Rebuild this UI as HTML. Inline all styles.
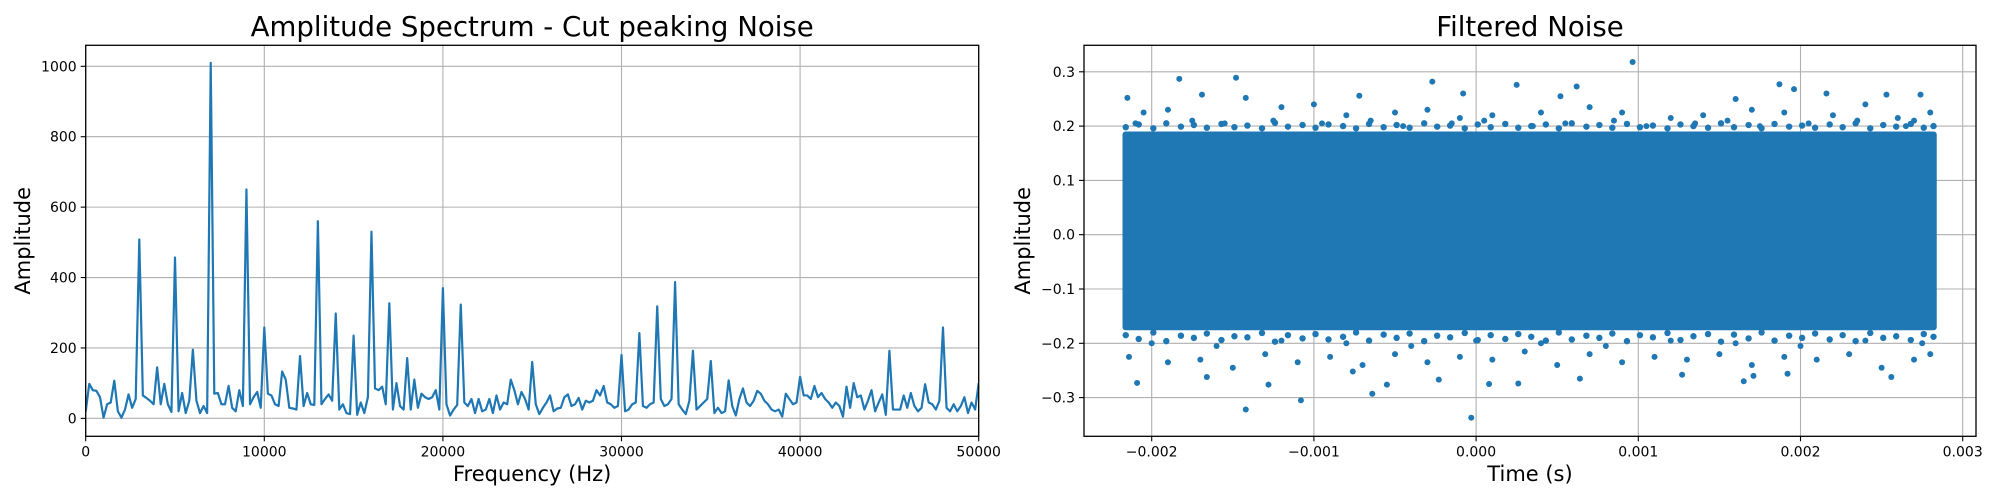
<!DOCTYPE html>
<html><head><meta charset="utf-8"><style>
html,body{margin:0;padding:0;background:#fff;}
svg{display:block;font-family:"DejaVu Sans","Liberation Sans",sans-serif;}
</style></head><body>
<svg id="fig" width="2000" height="500" viewBox="0 0 2000 500">
<rect width="2000" height="500" fill="#fff"/>
<g id="left"></g>
<g id="right"></g>
</svg>
<script>
const specFreq=[0,200,400,600,800,1000,1200,1400,1600,1800,2000,2200,2400,2600,2800,3000,3200,3400,3600,3800,4000,4200,4400,4600,4800,5000,5200,5400,5600,5800,6000,6200,6400,6600,6800,7000,7200,7400,7600,7800,8000,8200,8400,8600,8800,9000,9200,9400,9600,9800,10000,10200,10400,10600,10800,11000,11200,11400,11600,11800,12000,12200,12400,12600,12800,13000,13200,13400,13600,13800,14000,14200,14400,14600,14800,15000,15200,15400,15600,15800,16000,16200,16400,16600,16800,17000,17200,17400,17600,17800,18000,18200,18400,18600,18800,19000,19200,19400,19600,19800,20000,20200,20400,20600,20800,21000,21200,21400,21600,21800,22000,22200,22400,22600,22800,23000,23200,23400,23600,23800,24000,24200,24400,24600,24800,25000,25200,25400,25600,25800,26000,26200,26400,26600,26800,27000,27200,27400,27600,27800,28000,28200,28400,28600,28800,29000,29200,29400,29600,29800,30000,30200,30400,30600,30800,31000,31200,31400,31600,31800,32000,32200,32400,32600,32800,33000,33200,33400,33600,33800,34000,34200,34400,34600,34800,35000,35200,35400,35600,35800,36000,36200,36400,36600,36800,37000,37200,37400,37600,37800,38000,38200,38400,38600,38800,39000,39200,39400,39600,39800,40000,40200,40400,40600,40800,41000,41200,41400,41600,41800,42000,42200,42400,42600,42800,43000,43200,43400,43600,43800,44000,44200,44400,44600,44800,45000,45200,45400,45600,45800,46000,46200,46400,46600,46800,47000,47200,47400,47600,47800,48000,48200,48400,48600,48800,49000,49200,49400,49600,49800,50000];
const specAmp=[20,98,80,78,60,2,40,45,107,20,2,25,68,30,55,508,65,58,50,40,145,40,98,40,18,457,20,72,15,50,195,50,15,35,15,1010,70,72,40,40,92,30,20,80,35,650,40,60,75,30,258,70,65,40,35,133,110,30,28,25,177,35,72,40,38,560,40,55,68,50,298,25,40,15,12,235,10,45,15,60,530,85,80,90,40,327,25,100,35,25,171,25,110,30,70,60,55,60,80,25,370,40,8,25,38,323,45,35,55,15,55,20,25,55,15,65,25,45,40,110,80,40,75,55,25,160,40,12,30,45,65,20,28,30,60,68,35,40,58,25,50,45,50,80,65,92,45,40,30,35,180,20,25,40,45,242,35,30,40,45,318,55,35,40,55,387,40,25,12,50,192,25,35,45,55,163,15,30,15,20,108,35,8,55,85,45,35,50,78,70,50,40,25,20,25,5,70,55,40,45,118,65,65,55,92,60,72,55,45,30,45,35,5,90,30,100,60,65,25,50,80,20,45,68,10,192,25,25,25,65,30,72,35,20,30,97,45,40,25,50,258,30,20,40,20,35,60,15,45,25,100];
const specXTicks=[0,10000,20000,30000,40000,50000];
const specYTicks=[0,200,400,600,800,1000];
const noiseXTicks=[-0.002,-0.001,0,0.001,0.002,0.003];
const noiseXLabels=["\u22120.002","\u22120.001","0.000","0.001","0.002","0.003"];
const noiseYTicks=[-0.3,-0.2,-0.1,0,0.1,0.2,0.3];
const noiseYLabels=["\u22120.3","\u22120.2","\u22120.1","0.0","0.1","0.2","0.3"];
const noiseTimeRange=[-0.00218,0.00284];
const noiseCoreRange=[-0.176,0.19];
const outT=[0.000965,-0.00183,-0.00148,-0.00027,0.00187,0.00025,0.00062,-0.00008,0.00196,0.00216,0.00274,0.00253,-0.00215,-0.00169,-0.00142,-0.00072,0.0016,0.00052,-0.00205,-0.0019,-0.0012,-0.001,-0.0008,-0.0005,-0.0003,-0.0001,0.0001,0.0004,0.0007,0.0009,0.0012,0.0014,0.0017,0.0019,0.0022,0.0024,0.0026,0.0028,-0.0021,-0.00175,-0.00155,-0.00125,-0.00095,-0.00065,-0.00045,-0.00015,0.00005,0.00035,0.00055,0.00085,0.00105,0.00135,0.00155,0.00175,0.00205,0.00235,0.00265,0.0027,
-0.00003,-0.00142,-0.00108,-0.00064,-0.00209,-0.00128,-0.00055,0.00008,0.00026,0.00165,0.00256,0.00064,-0.00166,-0.00023,0.00127,0.00192,0.00171,-0.00076,-0.00214,-0.0019,-0.0017,-0.0015,-0.0013,-0.0011,-0.0009,-0.0007,-0.0005,-0.0003,-0.0001,0.0001,0.0003,0.0005,0.0007,0.0009,0.0011,0.0013,0.0015,0.0017,0.0019,0.0021,0.0023,0.0025,0.0027,0.0028,-0.002,-0.0016,-0.0012,-0.0008,-0.0004,0,0.0004,0.0008,0.0012,0.0016,0.002,0.0024,0.00275];
const outV=[0.318,0.287,0.289,0.282,0.277,0.276,0.273,0.26,0.268,0.26,0.258,0.258,0.252,0.258,0.252,0.256,0.25,0.255,0.225,0.23,0.235,0.24,0.22,0.225,0.23,0.215,0.22,0.225,0.235,0.225,0.215,0.22,0.23,0.225,0.22,0.24,0.215,0.225,0.205,0.21,0.205,0.21,0.205,0.21,0.2,0.205,0.21,0.2,0.205,0.21,0.2,0.205,0.21,0.2,0.205,0.21,0.2,0.21,
-0.337,-0.322,-0.305,-0.293,-0.273,-0.276,-0.276,-0.275,-0.274,-0.27,-0.262,-0.265,-0.262,-0.267,-0.258,-0.256,-0.26,-0.252,-0.225,-0.235,-0.23,-0.245,-0.22,-0.235,-0.225,-0.24,-0.22,-0.235,-0.225,-0.23,-0.215,-0.24,-0.22,-0.235,-0.225,-0.23,-0.22,-0.24,-0.225,-0.23,-0.22,-0.245,-0.23,-0.22,-0.2,-0.205,-0.195,-0.2,-0.205,-0.195,-0.2,-0.205,-0.195,-0.2,-0.205,-0.195,-0.2];
// dense fringe just outside the core band
const fringeT=[-0.00216,-0.00208,-0.00199,-0.00191,-0.00182,-0.00174,-0.00166,-0.00157,-0.00149,-0.00141,-0.00132,-0.00124,-0.00116,-0.00107,-0.00099,-0.00091,-0.00082,-0.00074,-0.00066,-0.00057,-0.00049,-0.00041,-0.00032,-0.00024,-0.00016,-0.00007,0.00001,0.00009,0.00018,0.00026,0.00034,0.00043,0.00051,0.00059,0.00068,0.00076,0.00084,0.00093,0.00101,0.00109,0.00118,0.00126,0.00134,0.00143,0.00151,0.00159,0.00168,0.00176,0.00184,0.00193,0.00201,0.00209,0.00218,0.00226,0.00234,0.00243,0.00251,0.00259,0.00268,0.00276,0.00282];
const fringeTop=[0.198,0.203,0.196,0.205,0.199,0.202,0.197,0.204,0.198,0.201,0.196,0.206,0.199,0.202,0.197,0.203,0.2,0.196,0.204,0.198,0.202,0.197,0.205,0.199,0.201,0.196,0.203,0.198,0.204,0.197,0.2,0.203,0.196,0.205,0.199,0.202,0.197,0.204,0.198,0.201,0.196,0.203,0.2,0.197,0.205,0.198,0.202,0.196,0.204,0.199,0.201,0.197,0.203,0.198,0.205,0.196,0.202,0.199,0.204,0.197,0.2];
const fringeBot=[-0.185,-0.192,-0.18,-0.196,-0.186,-0.19,-0.182,-0.194,-0.187,-0.189,-0.181,-0.197,-0.185,-0.191,-0.183,-0.193,-0.188,-0.18,-0.195,-0.184,-0.19,-0.182,-0.196,-0.186,-0.189,-0.181,-0.194,-0.185,-0.192,-0.183,-0.188,-0.195,-0.18,-0.193,-0.186,-0.19,-0.182,-0.196,-0.185,-0.189,-0.181,-0.194,-0.187,-0.183,-0.197,-0.184,-0.191,-0.18,-0.195,-0.186,-0.19,-0.182,-0.193,-0.185,-0.196,-0.181,-0.19,-0.187,-0.194,-0.183,-0.188];

const NS='http://www.w3.org/2000/svg';
function mk(parent,tag,attrs,text){const e=document.createElementNS(NS,tag);for(const k in attrs)e.setAttribute(k,attrs[k]);if(text!==undefined)e.textContent=text;parent.appendChild(e);return e;}

// Left chart
const L=document.getElementById('left');
const LX0=85.7,LX1=978.7,LY0=45.3,LY1=436.3;
const lxs=v=>LX0+(v-0)/(50000-0)*(LX1-LX0);
const lys=v=>LY1-(v-(-51))/(1059.7-(-51))*(LY1-LY0);
specXTicks.forEach(t=>{
  const g=mk(L,'line',{x1:lxs(t),x2:lxs(t),y1:LY0,y2:LY1,stroke:'#b0b0b0','stroke-width':1.1});
  
  
  mk(L,'line',{x1:lxs(t),x2:lxs(t),y1:LY1,y2:LY1+5,stroke:'#000','stroke-width':1.1});
  const tx=mk(L,'text',{x:lxs(t),y:LY1+20,'font-size':14,'text-anchor':'middle'},String(t));
  
  
});
specYTicks.forEach(t=>{
  const g=mk(L,'line',{x1:LX0,x2:LX1,y1:lys(t),y2:lys(t),stroke:'#b0b0b0','stroke-width':1.1});
  
  
  mk(L,'line',{x1:LX0-5,x2:LX0,y1:lys(t),y2:lys(t),stroke:'#000','stroke-width':1.1});
  const tx=mk(L,'text',{x:LX0-9,y:lys(t)+5,'font-size':14,'text-anchor':'end'},String(t));
  
  
});
const clipL=mk(mk(L,'defs',{}),'clipPath',{id:'cl'});mk(clipL,'rect',{x:LX0,y:LY0,width:LX1-LX0,height:LY1-LY0});
const pts=specFreq.map((f,i)=>lxs(f).toFixed(2)+','+lys(specAmp[i]).toFixed(2)).join(' ');
const pl=mk(L,'polyline',{points:pts,fill:'none',stroke:'#1f77b4','stroke-width':2.2,'stroke-linejoin':'round','clip-path':'url(#cl)'});


const fr=mk(L,'rect',{x:LX0,y:LY0,width:LX1-LX0,height:LY1-LY0,fill:'none',stroke:'#000','stroke-width':1.3});


const t1=mk(L,'text',{x:(LX0+LX1)/2,y:36,'font-size':27.6,'text-anchor':'middle'},'Amplitude Spectrum - Cut peaking Noise');


const xl1=mk(L,'text',{x:(LX0+LX1)/2,y:481,'font-size':21,'text-anchor':'middle'},'Frequency (Hz)');


const yl1=mk(L,'text',{x:0,y:0,'font-size':21,'text-anchor':'middle',transform:'translate(30,'+((LY0+LY1)/2)+') rotate(-90)'},'Amplitude');



// Right chart
const R=document.getElementById('right');
const RX0=1084,RX1=1976,RY0=45.3,RY1=436.3;
const rxs=v=>1476.1+v*162200;
const rys=v=>234.7-v*543;
noiseXTicks.forEach((t,i)=>{
  const g=mk(R,'line',{x1:rxs(t),x2:rxs(t),y1:RY0,y2:RY1,stroke:'#b0b0b0','stroke-width':1.1});
  
  
  mk(R,'line',{x1:rxs(t),x2:rxs(t),y1:RY1,y2:RY1+5,stroke:'#000','stroke-width':1.1});
  const tx=mk(R,'text',{x:rxs(t),y:RY1+20,'font-size':14,'text-anchor':'middle'},noiseXLabels[i]);
  
  
});
noiseYTicks.forEach((t,i)=>{
  const g=mk(R,'line',{x1:RX0,x2:RX1,y1:rys(t),y2:rys(t),stroke:'#b0b0b0','stroke-width':1.1});
  
  
  mk(R,'line',{x1:RX0-5,x2:RX0,y1:rys(t),y2:rys(t),stroke:'#000','stroke-width':1.1});
  const tx=mk(R,'text',{x:RX0-9,y:rys(t)+5,'font-size':14,'text-anchor':'end'},noiseYLabels[i]);
  
  
});
const core=mk(R,'rect',{x:rxs(noiseTimeRange[0]),y:rys(noiseCoreRange[1]),width:rxs(noiseTimeRange[1])-rxs(noiseTimeRange[0]),height:rys(noiseCoreRange[0])-rys(noiseCoreRange[1]),fill:'#1f77b4',rx:3});


fringeT.forEach((t,i)=>{
  const a=mk(R,'circle',{cx:rxs(t),cy:rys(fringeTop[i]),r:3.2,fill:'#1f77b4'});
  
  
  const b=mk(R,'circle',{cx:rxs(t),cy:rys(fringeBot[i]),r:3.2,fill:'#1f77b4'});
  
  
});
outT.forEach((t,i)=>{
  const c=mk(R,'circle',{cx:rxs(t),cy:rys(outV[i]),r:3,fill:'#1f77b4'});
  
  
});
const fr2=mk(R,'rect',{x:RX0,y:RY0,width:RX1-RX0,height:RY1-RY0,fill:'none',stroke:'#000','stroke-width':1.3});


const t2=mk(R,'text',{x:(RX0+RX1)/2,y:36,'font-size':27.6,'text-anchor':'middle'},'Filtered Noise');


const xl2=mk(R,'text',{x:(RX0+RX1)/2,y:481,'font-size':21,'text-anchor':'middle'},'Time (s)');


const yl2=mk(R,'text',{x:0,y:0,'font-size':21,'text-anchor':'middle',transform:'translate(1030,'+((RY0+RY1)/2)+') rotate(-90)'},'Amplitude');


</script>
</body></html>
